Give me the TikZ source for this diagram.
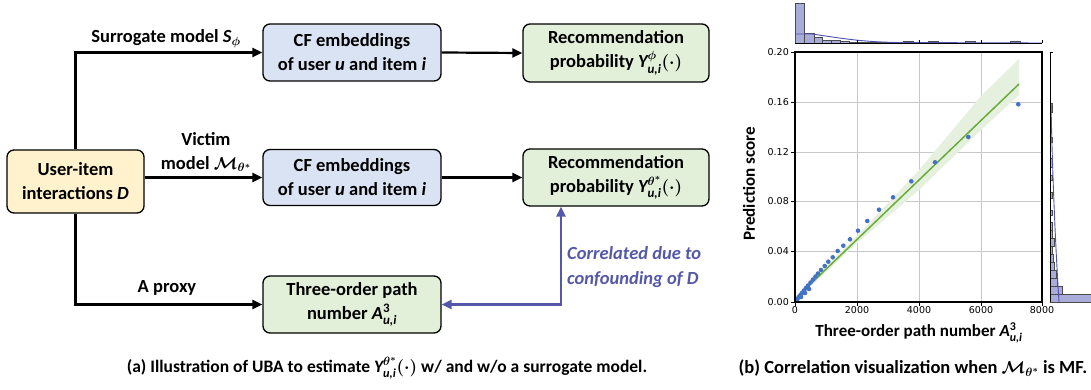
\documentclass[tikz,border=0pt]{standalone}
\usepackage[no-math]{fontspec}
\setmainfont{Carlito}
\newfontfamily\dejavu{DejaVu Sans}
\usepackage{amsmath,bm}
\newcommand{\mvar}[1]{\text{\bfseries\itshape #1}}
\newcommand{\mup}[1]{\text{\bfseries\upshape #1}}
\usetikzlibrary{arrows.meta,calc}
\definecolor{yel}{HTML}{FFF2CC}
\definecolor{blu}{HTML}{DAE3F3}
\definecolor{grn}{HTML}{E2F0D9}
\definecolor{arrblue}{HTML}{5558A8}
\definecolor{dotblue}{HTML}{4472C4}
\definecolor{lgreen}{HTML}{6AAB3E}
\definecolor{bandc}{HTML}{E6F0DE}
\definecolor{histfill}{HTML}{A9ABD9}
\definecolor{kde}{HTML}{4F52B0}
\definecolor{gridc}{HTML}{C8C8C8}
\begin{document}
\begin{tikzpicture}[x=1pt,y=-1pt,
  flowbox/.style={draw=black, line width=1.3pt, rounded corners=7pt, align=center,
    font=\fontsize{18.5}{24}\selectfont\bfseries\boldmath, inner sep=0pt},
  conn/.style={line width=2.2pt, -{Triangle[length=10pt,width=9pt]}},
  bconn/.style={line width=2.2pt, draw=arrblue, {Triangle[length=10pt,width=9pt]}-{Triangle[length=10pt,width=9pt]}},
  lbl/.style={font=\fontsize{18.5}{24}\selectfont\bfseries\boldmath, align=center, inner sep=0pt},
  captext/.style={font=\fontsize{17.5}{20}\selectfont\bfseries\boldmath, inner sep=0pt},
  ticklbl/.style={font=\dejavu\fontsize{9.5}{11}\selectfont, inner sep=1pt},
  axl/.style={font=\fontsize{17}{20}\selectfont\bfseries\boldmath, inner sep=0pt},
  gridline/.style={draw=gridc, line width=0.9pt},
  scatdot/.style={fill=dotblue},
  hbar/.style={fill=histfill, draw=black!70, line width=0.6pt}
]
\useasboundingbox (0,0) rectangle (1091,390);

% ---------- diagram (a) ----------
\node[flowbox, fill=yel, minimum width=137pt, minimum height=63pt] (user) at (75.5,181.5) {User-item\\interactions $\mvar{D}$};
\node[flowbox, fill=blu, minimum width=178pt, minimum height=57pt] (cf1) at (352,52.5) {CF embeddings\\of user $\mvar{u}$ and item $\mvar{i}$};
\node[flowbox, fill=blu, minimum width=178pt, minimum height=56pt] (cf2) at (352,177.5) {CF embeddings\\of user $\mvar{u}$ and item $\mvar{i}$};
\node[flowbox, fill=grn, minimum width=178pt, minimum height=57pt] (path) at (352,304.5) {Three-order path\\number $\mvar{A}^{\mup{3}}_{\mvar{u,i}}$};
\node[flowbox, fill=grn, minimum width=186pt, minimum height=58pt] (rec1) at (616,53) {Recommendation\\probability $\mvar{Y}^{\bm{\phi}}_{\mvar{u,i}}(\cdot)$};
\node[flowbox, fill=grn, minimum width=186pt, minimum height=57pt] (rec2) at (616,177.5) {Recommendation\\probability $\mvar{Y}^{\bm{\theta}^*}_{\mvar{u,i}}(\cdot)$};

\draw[conn] (user.north) |- (cf1.west);
\draw[conn] (user.east |- cf2.west) -- (cf2.west);
\draw[conn] (user.south) |- (path.west);
\draw[conn] (cf1.east) -- (rec1.west);
\draw[conn] (cf2.east) -- (rec2.west);
\draw[bconn] (path.east) -| ([xshift=-55pt]rec2.south);

\node[lbl, anchor=base] (lsur) at (166,43) {Surrogate model $\mvar{S}_{\bm{\phi}}$};
\node[lbl] (lvic) at (206,152) {Victim\\model $\bm{\mathcal{M}}_{\bm{\theta}^*}$};
\node[lbl] (lprox) at (167,288) {A proxy};
\node[lbl, anchor=west, align=left, text=arrblue, font=\fontsize{18.5}{25}\selectfont\bfseries\itshape\boldmath] (lcor) at (567,267) {Correlated due to\\confounding of $\mvar{D}$};

\node[captext] (capa) at (387,368) {(a) Illustration of UBA to estimate $\mvar{Y}^{\bm{\theta}^*}_{\mvar{u,i}}(\cdot)$ w/ and w/o a surrogate model.};
\node[captext, font=\fontsize{18.5}{22}\selectfont\bfseries\boldmath] (capb) at (913,368) {(b) Correlation visualization when $\bm{\mathcal{M}}_{\bm{\theta}^*}$ is MF.};

% ---------- chart (b) ----------
\foreach \x in {857,919,981} \draw[gridline] (\x,52) -- (\x,302);
\foreach \y in {102,152,201,251} \draw[gridline] (795,\y) -- (1042,\y);
\fill[bandc] (795,297) -- (857,236) -- (919,170) -- (981,96) -- (1019,59) -- (1019,95) -- (981,130) -- (919,190) -- (857,243) -- (795,301) -- cycle;
\draw[lgreen, line width=1.5pt] (795,299) -- (1019,84);
\foreach \p in {(1018.3,104.3),(968.3,137),(935,162.3),(911.3,181.3),(893,197.3),(879,209.7),(867.3,221),(858,230.7),(850,239.3),(843.3,245.7),(837.7,251),(832.7,257.3),(828.3,261.7),(824.7,266),(821,270),(818,273.5),(815.5,276.5),(813,279.5),(810.5,282.5),(808,285.5),(806,288),(804,290.5),(802,293),(800.5,295),(799,297),(797.5,299),(796.5,300.5),(809,289),(805,293),(801,297)}
  \fill[scatdot] \p circle (2.3pt);
\draw[line width=1.2pt] (795,52) rectangle (1042,302);
\foreach \y/\l in {52/0.20,102/0.16,152/0.12,201/0.08,251/0.04,302/0.00} {
  \draw[line width=0.8pt] (795,\y) -- (791,\y);
  \node[ticklbl, anchor=east] at (790,\y) {\l};
}
\foreach \x/\l in {795/0,857/2000,919/4000,981/6000,1042/8000} {
  \draw[line width=0.8pt] (\x,302) -- (\x,306);
  \node[ticklbl, anchor=north] at (\x,305) {\l};
}
\node[axl] (xl) at (919,333) {Three-order path number $\mvar{A}^{\mup{3}}_{\mvar{u,i}}$};
\node[axl, rotate=90] (yl) at (749,184) {Prediction score};

% top marginal histogram
\foreach \a/\b/\t in {795/804/3, 804/814/33, 814/822/37, 822/831/40, 831/840/40.5, 840/849/41.5, 849/858/42, 858/867/42, 867/876/42, 876/885/42, 885/894/42, 903/913/41.8, 928/938/41.8, 965/975/41.8, 1010/1020/41.8}
  \draw[hbar] (\a,43) rectangle (\b,\t);
\draw[kde, line width=0.9pt] (795,34) -- (812,34) .. controls (840,38) and (860,42) .. (900,42.5) -- (1042,43);
\draw[line width=0.8pt] (795,43) -- (1042,43);
\foreach \x in {857,919,981,1042} \draw[line width=0.6pt] (\x,43) -- (\x,40);

% right marginal histogram
\foreach \a/\b/\r in {294/302/1091, 286/294/1062, 278/286/1057, 270/278/1056, 262/270/1054, 254/262/1053.5, 246/254/1052.5, 238/246/1054, 230/238/1052.5, 222/230/1052.5, 210/215/1052, 192/198/1052, 175/180/1052, 158/167/1052, 137/142/1052, 103/112/1052}
  \draw[hbar] (1050,\a) rectangle (\r,\b);
\draw[kde, line width=0.9pt] (1059,302) .. controls (1055,240) and (1052,160) .. (1051,103);
\draw[line width=0.8pt] (1050,52) -- (1050,302);
\draw[line width=0.6pt] (1050,52.5) -- (1053,52.5);
\end{tikzpicture}
\end{document}
